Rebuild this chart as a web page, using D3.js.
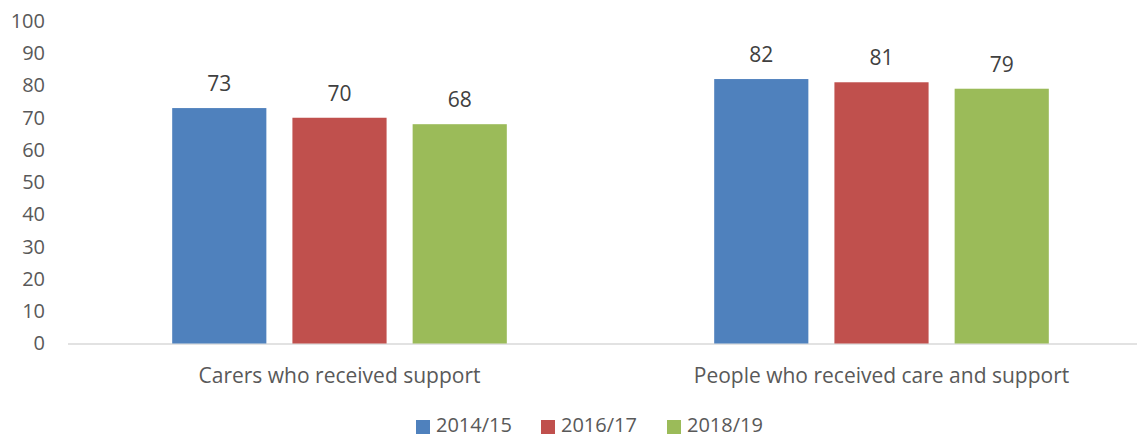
<!DOCTYPE html>
<html>
<head>
<meta charset="utf-8">
<script src="https://cdn.jsdelivr.net/npm/d3@7"></script>
<style>
  html, body { margin: 0; padding: 0; background: #fff; }
  svg { display: block; font-family: "Open Sans", "Noto Sans", sans-serif; }
</style>
</head>
<body>
<div id="chart"></div>
<script>
// Chart data
const categories = ["Carers who received support", "People who received care and support"];
const seriesNames = ["2014/15", "2016/17", "2018/19"];
const series2014 = [73, 82];
const series2016 = [70, 81];
const series2018 = [68, 79];
const yTicks = [0, 10, 20, 30, 40, 50, 60, 70, 80, 90, 100];

const colors = ["#4f81bd", "#c0504d", "#9bbb59"];
const seriesValues = [series2014, series2016, series2018];

const width = 1137, height = 437;
const svg = d3.select("#chart").append("svg")
  .attr("width", width).attr("height", height);

const y = d3.scaleLinear().domain([0, 100]).range([343.5, 21]);
const x0 = d3.scaleBand().domain(categories).range([68.5, 1152.5]).padding(0);
const x1 = d3.scaleBand().domain(seriesNames).range([0, x0.bandwidth()])
  .paddingInner(0.2167).paddingOuter(0.8625);

// Y axis labels (no axis line or gridlines)
const yAxis = d3.axisLeft(y).tickValues(yTicks).tickSize(0).tickPadding(0);
const yg = svg.append("g").attr("transform", "translate(45,0)").call(yAxis);
yg.select(".domain").remove();
yg.selectAll("text").attr("fill", "#595959").style("font-size", "20px")
  .style("font-family", "'Open Sans', sans-serif");

// Baseline
svg.append("line")
  .attr("x1", 68).attr("x2", width)
  .attr("y1", y(0) + 0.5).attr("y2", y(0) + 0.5)
  .attr("stroke", "#d9d9d9").attr("stroke-width", 1.5);

// Bars
const groups = svg.append("g").selectAll("g")
  .data(categories)
  .join("g")
  .attr("transform", d => `translate(${x0(d)},0)`);

groups.selectAll("rect")
  .data((d, i) => seriesNames.map((s, j) => ({ s, v: seriesValues[j][i], c: colors[j] })))
  .join("rect")
  .attr("x", d => x1(d.s))
  .attr("width", x1.bandwidth())
  .attr("y", d => y(d.v))
  .attr("height", d => y(0) - y(d.v))
  .attr("fill", d => d.c);

// Value labels
groups.selectAll("text.val")
  .data((d, i) => seriesNames.map((s, j) => ({ s, v: seriesValues[j][i] })))
  .join("text")
  .attr("class", "val")
  .attr("x", d => x1(d.s) + x1.bandwidth() / 2)
  .attr("y", d => y(d.v) - 17)
  .attr("text-anchor", "middle")
  .attr("fill", "#404040")
  .style("font-size", "21px")
  .text(d => d.v);

// Category labels
svg.append("g").selectAll("text")
  .data(categories)
  .join("text")
  .attr("x", d => x0(d) + x1(seriesNames[1]) + x1.bandwidth() / 2)
  .attr("y", 383)
  .attr("text-anchor", "middle")
  .attr("fill", "#595959")
  .style("font-size", "21px")
  .text(d => d);

// Legend
const legendX = [416, 541, 667];
const lg = svg.append("g").selectAll("g")
  .data(seriesNames)
  .join("g")
  .attr("transform", (d, i) => `translate(${legendX[i]},420)`);
lg.append("rect").attr("width", 14).attr("height", 14).attr("fill", (d, i) => colors[i]);
lg.append("text").attr("x", 20).attr("y", 11.5)
  .attr("fill", "#595959").style("font-size", "20px").text(d => d);
</script>
</body>
</html>
